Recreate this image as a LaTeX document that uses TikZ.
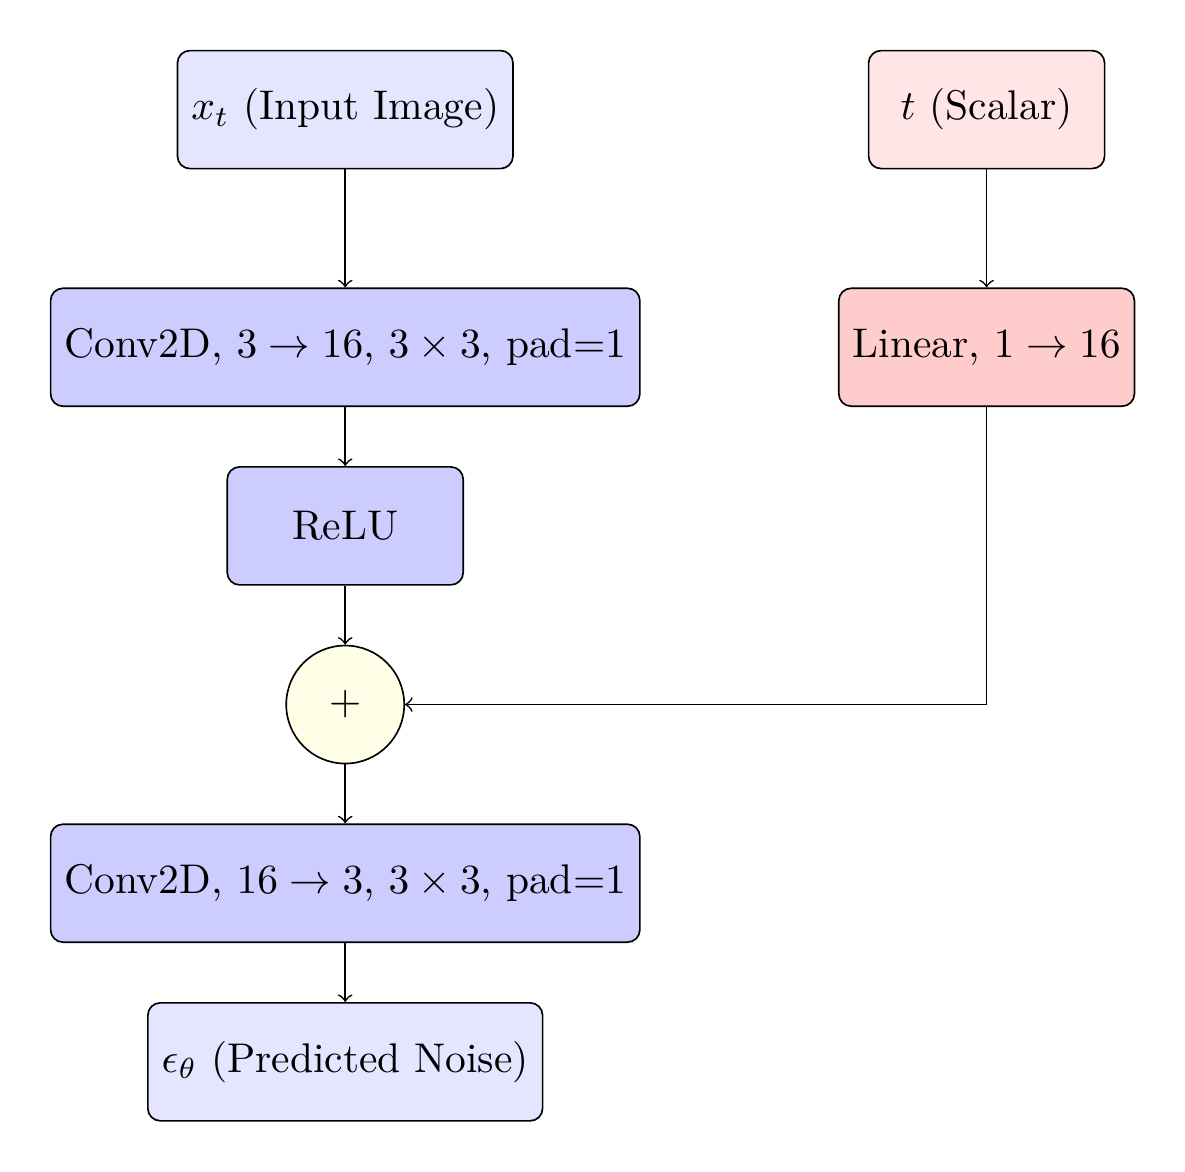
\documentclass[tikz,border=0pt]{standalone}
\usetikzlibrary{positioning,calc}
\begin{document}
\begin{tikzpicture}[
  box/.style={draw, rounded corners=3pt, minimum width=2cm, minimum height=1cm, align=center},
  io/.style={box, fill=blue!10},
  layer/.style={box, fill=blue!20},
  tin/.style={box, fill=red!10},
  tlayer/.style={box, fill=red!20},
  addop/.style={draw, circle, minimum size=1cm, fill=yellow!10, inner sep=0pt},
  arr/.style={->},
  node distance=0.5cm
]
\node[io] (xt) {$x_t$ (Input Image)};
\node[layer, below=1cm of xt] (conv1) {Conv2D, $3 \to 16$, $3 \times 3$, pad=1};
\node[layer, below=of conv1] (relu) {ReLU};
\node[addop, below=of relu] (add) {$+$};
\node[layer, below=of add] (conv2) {Conv2D, $16 \to 3$, $3 \times 3$, pad=1};
\node[io, below=of conv2] (eps) {$\epsilon_\theta$ (Predicted Noise)};
\node[tin, right=3cm of xt] (t) {$t$ (Scalar)};
\node[tlayer, below=1cm of t] (lin) {Linear, $1 \to 16$};

\draw[arr] (xt) -- (conv1);
\draw[arr] (conv1) -- (relu);
\draw[arr] (relu) -- (add);
\draw[arr] (add) -- (conv2);
\draw[arr] (conv2) -- (eps);
\draw[arr] (t) -- (lin);
\draw[arr] (lin.south) |- (add.east);

\coordinate (sw) at ($(conv1.west |- eps.south)+(-12pt,-12pt)$);
\coordinate (ne) at ($(lin.east |- xt.north)+(12pt,12pt)$);
\path (sw) (ne);
\end{tikzpicture}
\end{document}
